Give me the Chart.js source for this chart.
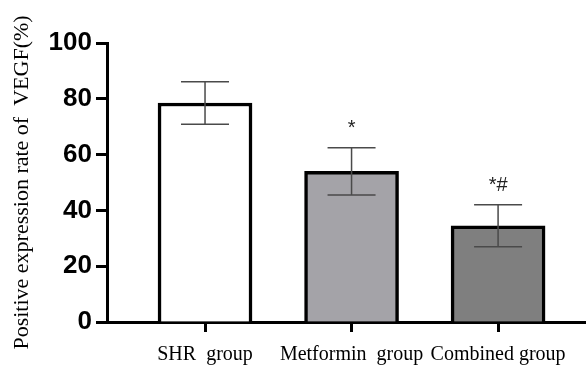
<!DOCTYPE html>
<html>
<head>
<meta charset="utf-8">
<script src="https://cdn.jsdelivr.net/npm/chart.js@4.4.1/dist/chart.umd.min.js"></script>
<style>
  html, body { margin: 0; padding: 0; background: #fff; }
  #wrap { width: 586px; height: 370px; }
</style>
</head>
<body>
<div id="wrap"><canvas id="myChart" width="586" height="370"></canvas></div>
<script>
const categories = ["SHR  group", "Metformin  group", "Combined group"];
const means = [78.5, 54, 34.5];
const sds = [7.6, 8.5, 7.5];
const marks = ["", "*", "*#"];
const barColors = ["#ffffff", "#a4a3a8", "#7f7f7f"];
const yTicks = [0, 20, 40, 60, 80, 100];

// error bars and significance marks
const errorBars = {
  id: "errorBars",
  afterDatasetsDraw(chart) {
    const { ctx, scales } = chart;
    const xs = scales.x, ys = scales.y;
    ctx.save();
    ctx.strokeStyle = "#4a4a4a";
    ctx.lineWidth = 1.5;
    means.forEach((m, i) => {
      const x = xs.getPixelForValue(i);
      const top = ys.getPixelForValue(m + sds[i]);
      const bot = ys.getPixelForValue(m - sds[i]);
      ctx.beginPath();
      ctx.moveTo(x, top); ctx.lineTo(x, bot);
      ctx.moveTo(x - 24, top); ctx.lineTo(x + 24, top);
      ctx.moveTo(x - 24, bot); ctx.lineTo(x + 24, bot);
      ctx.stroke();
      if (marks[i]) {
        ctx.fillStyle = "#222";
        ctx.font = "20px 'Liberation Sans'";
        ctx.textAlign = "center";
        ctx.textBaseline = "bottom";
        ctx.fillText(marks[i], x, top - 9);
      }
    });
    ctx.restore();
  }
};

new Chart(document.getElementById("myChart"), {
  type: "bar",
  data: {
    datasets: [{
      data: means.map((v, i) => ({ x: i, y: v })),
      backgroundColor: barColors,
      borderColor: "#000",
      borderWidth: 3.5,
      barThickness: 94
    }]
  },
  options: {
    responsive: false,
    animation: false,
    layout: { padding: { top: 43, right: 0, left: 0, bottom: 0 } },
    plugins: { legend: { display: false }, tooltip: { enabled: false } },
    scales: {
      x: {
        type: "linear",
        offset: false,
        min: -0.669,
        max: 2.6,
        afterBuildTicks(scale) { scale.ticks = categories.map((c, i) => ({ value: i })); },
        afterFit(scale) { scale.height = 48; },
        ticks: {
          callback: (v) => categories[v] ?? "",
          color: "#000",
          font: { family: "'Liberation Serif'", size: 20 },
          padding: 11,
          maxRotation: 0,
          autoSkip: false
        },
        grid: { offset: false, drawOnChartArea: false, tickLength: 10, tickWidth: 3, tickColor: "#000" },
        border: { color: "#000", width: 3 }
      },
      y: {
        min: 0,
        max: 100,
        afterBuildTicks(scale) { scale.ticks = yTicks.map(v => ({ value: v })); },
        afterFit(scale) { scale.width = 107; },
        ticks: {
          color: "#000",
          font: { family: "'Liberation Sans'", size: 26, weight: "bold" },
          padding: 4
        },
        grid: { drawOnChartArea: false, tickLength: 11, tickWidth: 3, tickColor: "#000" },
        border: { color: "#000", width: 3 },
        title: {
          display: true,
          text: "Positive expression rate of  VEGF(%)",
          color: "#000",
          font: { family: "'Liberation Serif'", size: 22 },
          padding: { top: 9, bottom: 0 }
        }
      }
    }
  },
  plugins: [errorBars]
});
</script>
</body>
</html>
